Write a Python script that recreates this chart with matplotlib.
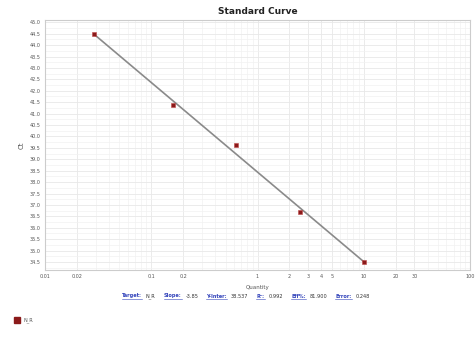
import numpy as np
import matplotlib
matplotlib.use("Agg")
import matplotlib.pyplot as plt
from matplotlib.ticker import FixedLocator, FixedFormatter, NullFormatter, LogLocator

# data
quantity = [0.029, 0.16, 0.63, 2.5, 10.0]
ct = [44.47, 41.37, 39.61, 36.69, 34.51]
xticks = [0.01, 0.02, 0.1, 0.2, 1, 2, 3, 4, 5, 10, 20, 30, 100]
xtick_labels = ["0.01", "0.02", "0.1", "0.2", "1", "2", "3", "4", "5", "10", "20", "30", "100"]
yticks = [34.5, 35.0, 35.5, 36.0, 36.5, 37.0, 37.5, 38.0, 38.5, 39.0, 39.5, 40.0,
          40.5, 41.0, 41.5, 42.0, 42.5, 43.0, 43.5, 44.0, 44.5, 45.0]
stat_names = ["Target:", "Slope:", "Y-Inter:", "R\u00b2:", "Eff%:", "Error:"]
stat_values = ["N_R", "-3.85", "38.537", "0.992", "81.900", "0.248"]
series_name = "N_R"

fig = plt.figure(figsize=(4.76, 3.38), dpi=100)
ax = fig.add_axes([45/476, 1-270/338, (470-45)/476, (270-20)/338])

ax.set_xscale("log")
ax.set_xlim(0.01, 100)
ax.set_ylim(34.15, 45.1)

# regression line
lx = np.log10(quantity)
slope, intercept = np.polyfit(lx, ct, 1)
xl = np.array([min(lx), max(lx)])
ax.plot(10**xl, slope*xl + intercept, color="#8a8a8a", lw=1.2, zorder=2)
ax.scatter(quantity, ct, marker="s", s=11, color="#8b1a1a", edgecolors="#c04848",
           linewidths=0.4, zorder=3)

ax.xaxis.set_major_locator(FixedLocator(xticks))
ax.xaxis.set_major_formatter(FixedFormatter(xtick_labels))
ax.xaxis.set_minor_locator(LogLocator(base=10, subs=np.arange(1, 10)))
ax.xaxis.set_minor_formatter(NullFormatter())
ax.set_yticks(yticks)
ax.set_yticklabels([f"{v:.1f}" for v in yticks])
ax.set_yticks(np.arange(34.25, 45.1, 0.25), minor=True)

ax.tick_params(axis="both", which="both", length=0, labelsize=3.5, labelcolor="#555555", pad=3)
ax.grid(True, which="major", color="#e8e8e8", lw=0.6)
ax.grid(True, which="minor", color="#f2f2f2", lw=0.5)
for s in ax.spines.values():
    s.set_color("#cccccc")
    s.set_linewidth(0.8)

ax.set_xlabel("Quantity", fontsize=4, color="#555555", labelpad=4)
ax.set_ylabel("Ct", fontsize=5, color="#555555", labelpad=4)
ax.set_title("Standard Curve", fontsize=6.5, fontweight="bold", color="#222222", pad=4)

# stats line
fig.canvas.draw()
r = fig.canvas.get_renderer()
x = 122/476
y = 1 - 296/338
for n, v in zip(stat_names, stat_values):
    t = fig.text(x, y, n, fontsize=3.6, color="#3344bb", fontweight="bold", va="center")
    bb = t.get_window_extent(r)
    ax_line_y = bb.y0 - 0.5
    fig.add_artist(plt.Line2D([bb.x0/476, bb.x1/476], [ax_line_y/338]*2,
                              color="#3344bb", lw=0.4))
    x = bb.x1/476 + 4/476
    t2 = fig.text(x, y, v, fontsize=3.6, color="#333333", va="center")
    bb2 = t2.get_window_extent(r)
    x = bb2.x1/476 + 8/476

# legend
fig.patches.append(plt.Rectangle((14/476, 1-323/338), 6/476, 6/338, transform=fig.transFigure,
                                 color="#8b1a1a"))
fig.text(24/476, 1-320/338, series_name, fontsize=3.6, color="#555555", va="center")

fig.savefig("out.png", dpi=100)
